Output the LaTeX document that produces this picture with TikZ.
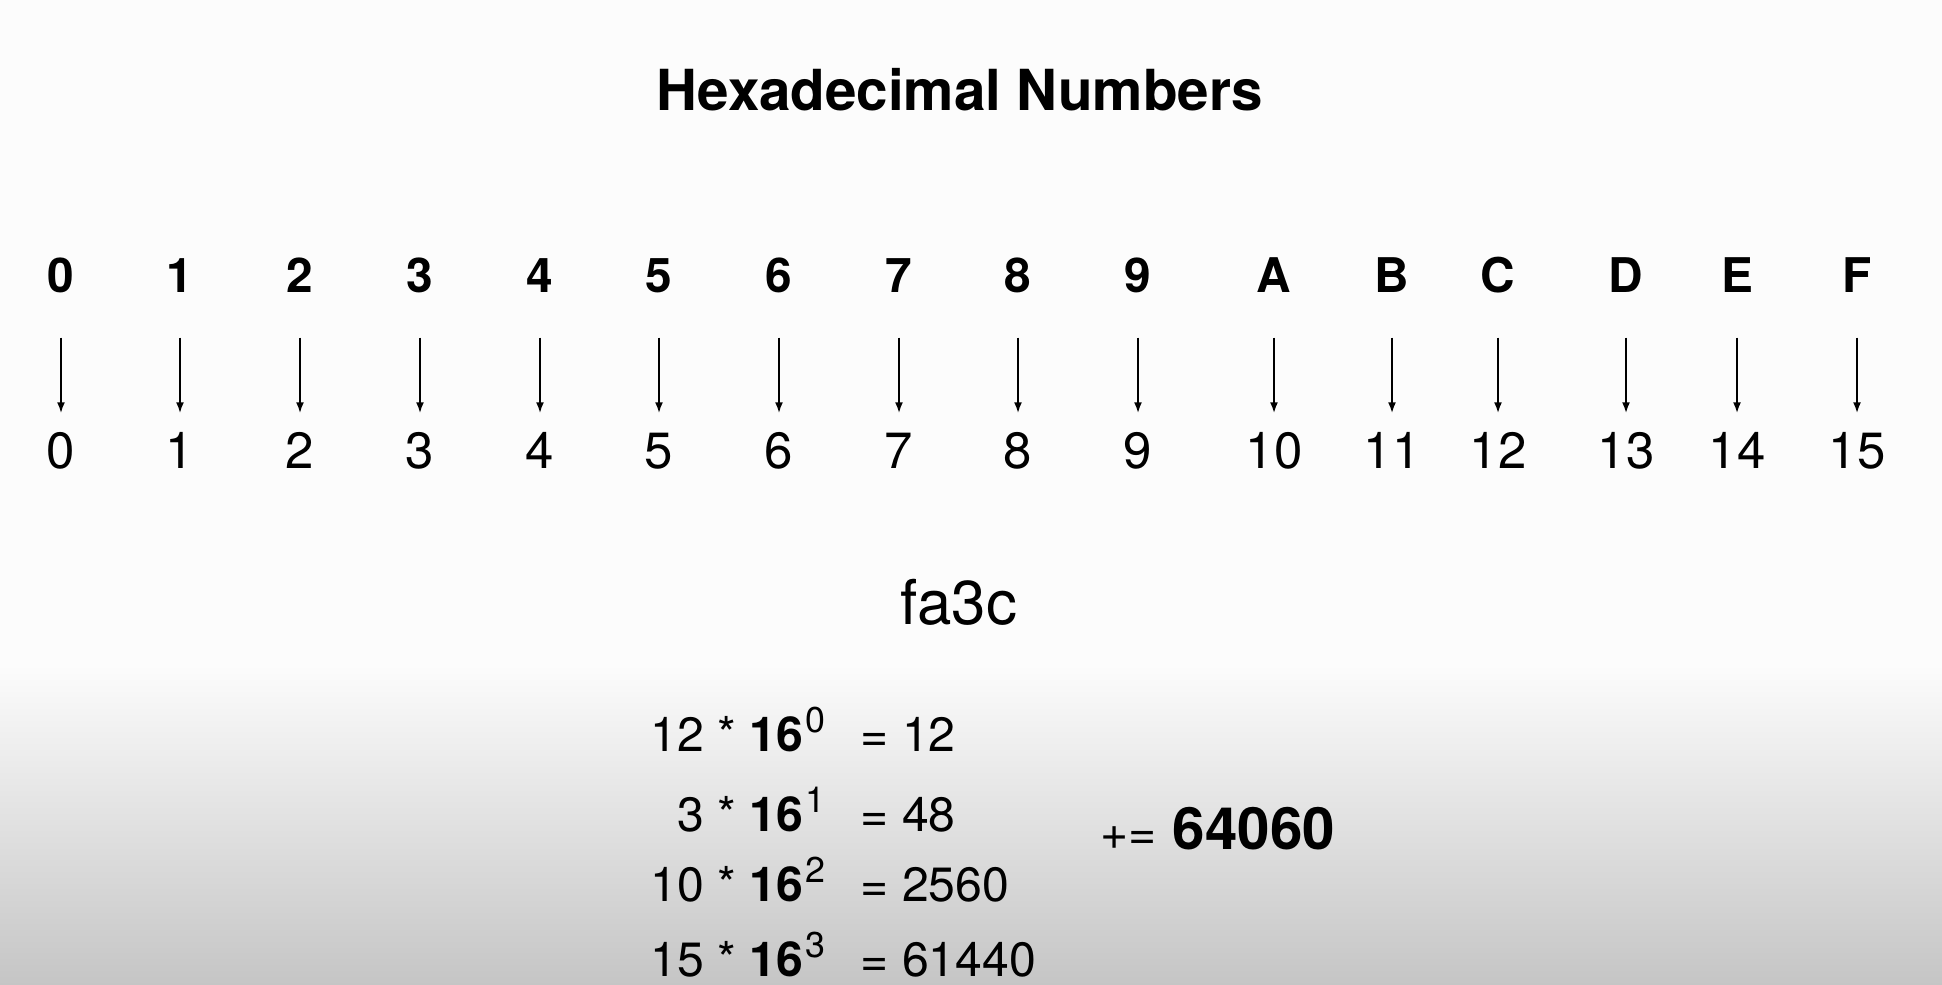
\documentclass[tikz,border=0pt]{standalone}
\usepackage{fontspec}
\setmainfont{TeX Gyre Heros}
\usetikzlibrary{arrows.meta}
\definecolor{slidetop}{RGB}{252,252,252}
\definecolor{slidebottom}{RGB}{197,197,197}
\newcommand{\hexpow}[1]{\kern0.02cm\raisebox{0.19cm}{\fontsize{10.2}{11}\selectfont #1}}
\tikzset{
	titletext/.style={font=\fontsize{16.1}{18}\selectfont\bfseries, inner sep=0pt, anchor=base},
	hexdigit/.style={font=\fontsize{13.6}{15}\selectfont\bfseries, inner sep=0pt, text height=0.33cm, text depth=0pt},
	decdigit/.style={font=\fontsize{14.5}{16}\selectfont, inner sep=0pt, text height=0.36cm, text depth=0pt},
	hexarrow/.style={-{Latex[length=1.1mm,width=0.8mm]}, line width=0.55pt, shorten <=0.445cm, shorten >=0.19cm},
	hexword/.style={font=\fontsize{17.6}{20}\selectfont, inner sep=0pt, anchor=base},
	eqleft/.style={font=\fontsize{13.7}{15}\selectfont, inner sep=0pt, anchor=base east},
	eqright/.style={font=\fontsize{13.7}{15}\selectfont, inner sep=0pt, anchor=base west},
	sumtext/.style={font=\fontsize{16.6}{18}\selectfont\bfseries, inner sep=0pt, anchor=base west}
}

\begin{document}
\begin{tikzpicture}
		%%%%% START %%%%%
		
		\useasboundingbox (0, 0) rectangle (19.42, -9.85);
		\fill[slidetop] (0, 0) rectangle (19.42, -9.85);
		\shade[top color=slidetop, bottom color=slidebottom] (0, -6.65) rectangle (19.42, -9.85);
		
		\node[titletext] (title) at (9.60, -1.11) {Hexadecimal Numbers};
		
		\node[hexdigit] (h0) at (0.61, -2.76) {0};
		\node[hexdigit] (h1) at (1.80, -2.76) {1};
		\node[hexdigit] (h2) at (3.00, -2.76) {2};
		\node[hexdigit] (h3) at (4.20, -2.76) {3};
		\node[hexdigit] (h4) at (5.40, -2.76) {4};
		\node[hexdigit] (h5) at (6.59, -2.76) {5};
		\node[hexdigit] (h6) at (7.79, -2.76) {6};
		\node[hexdigit] (h7) at (8.99, -2.76) {7};
		\node[hexdigit] (h8) at (10.18, -2.76) {8};
		\node[hexdigit] (h9) at (11.38, -2.76) {9};
		\node[hexdigit] (hA) at (12.74, -2.76) {A};
		\node[hexdigit] (hB) at (13.92, -2.76) {B};
		\node[hexdigit] (hC) at (14.98, -2.76) {C};
		\node[hexdigit] (hD) at (16.26, -2.76) {D};
		\node[hexdigit] (hE) at (17.37, -2.76) {E};
		\node[hexdigit] (hF) at (18.57, -2.76) {F};
		
		\node[decdigit] (d0) at (0.61, -4.51) {0};
		\node[decdigit] (d1) at (1.80, -4.51) {1};
		\node[decdigit] (d2) at (3.00, -4.51) {2};
		\node[decdigit] (d3) at (4.20, -4.51) {3};
		\node[decdigit] (d4) at (5.40, -4.51) {4};
		\node[decdigit] (d5) at (6.59, -4.51) {5};
		\node[decdigit] (d6) at (7.79, -4.51) {6};
		\node[decdigit] (d7) at (8.99, -4.51) {7};
		\node[decdigit] (d8) at (10.18, -4.51) {8};
		\node[decdigit] (d9) at (11.38, -4.51) {9};
		\node[decdigit] (dA) at (12.74, -4.51) {10};
		\node[decdigit] (dB) at (13.92, -4.51) {11};
		\node[decdigit] (dC) at (14.98, -4.51) {12};
		\node[decdigit] (dD) at (16.26, -4.51) {13};
		\node[decdigit] (dE) at (17.37, -4.51) {14};
		\node[decdigit] (dF) at (18.57, -4.51) {15};
		
		\draw[hexarrow] (h0.south) -- (d0.north);
		\draw[hexarrow] (h1.south) -- (d1.north);
		\draw[hexarrow] (h2.south) -- (d2.north);
		\draw[hexarrow] (h3.south) -- (d3.north);
		\draw[hexarrow] (h4.south) -- (d4.north);
		\draw[hexarrow] (h5.south) -- (d5.north);
		\draw[hexarrow] (h6.south) -- (d6.north);
		\draw[hexarrow] (h7.south) -- (d7.north);
		\draw[hexarrow] (h8.south) -- (d8.north);
		\draw[hexarrow] (h9.south) -- (d9.north);
		\draw[hexarrow] (hA.south) -- (dA.north);
		\draw[hexarrow] (hB.south) -- (dB.north);
		\draw[hexarrow] (hC.south) -- (dC.north);
		\draw[hexarrow] (hD.south) -- (dD.north);
		\draw[hexarrow] (hE.south) -- (dE.north);
		\draw[hexarrow] (hF.south) -- (dF.north);
		
		\node[hexword] (word) at (9.59, -6.25) {fa3c};
		
		\node[eqleft] (pow0) at (8.26, -7.52) {12 * \textbf{16}\hexpow{0}};
		\node[eqleft] (pow1) at (8.26, -8.32) {3 * \textbf{16}\hexpow{1}};
		\node[eqleft] (pow2) at (8.26, -9.02) {10 * \textbf{16}\hexpow{2}};
		\node[eqleft] (pow3) at (8.26, -9.77) {15 * \textbf{16}\hexpow{3}};
		
		\node[eqright] (val0) at (8.60, -7.52) {= 12};
		\node[eqright] (val1) at (8.60, -8.32) {= 48};
		\node[eqright] (val2) at (8.60, -9.02) {= 2560};
		\node[eqright] (val3) at (8.60, -9.77) {= 61440};
		
		\node[eqright] (pluseq) at (11.00, -8.50) {+=};
		\node[sumtext] (sum) at (11.72, -8.50) {64060};
		
		%%%%% END %%%%%
\end{tikzpicture}
\end{document}
